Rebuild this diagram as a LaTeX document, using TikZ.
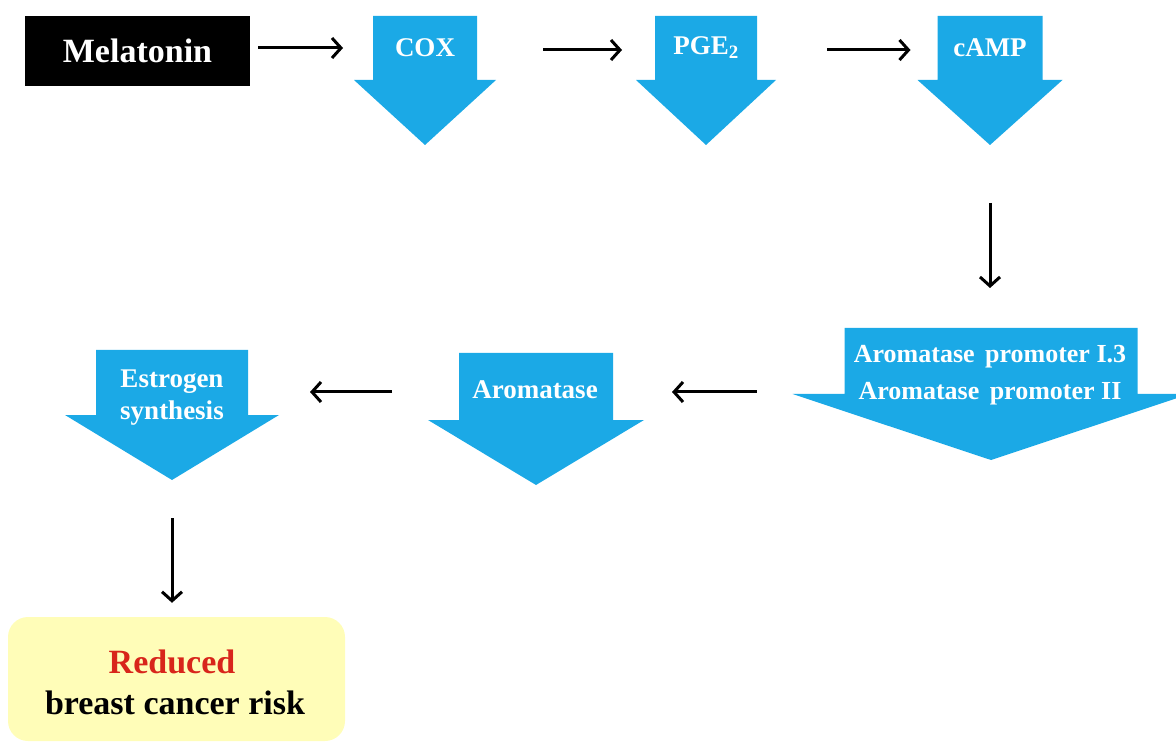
\documentclass[tikz,border=0pt]{standalone}
\usepackage{fontspec}
\setmainfont{Liberation Serif}
\usetikzlibrary{arrows.meta,calc}
\definecolor{bluec}{HTML}{1BA9E6}
\definecolor{yellowc}{HTML}{FFFDB8}
\definecolor{redc}{HTML}{D8251B}
\newcommand\bdown[7]{%
  \node[inner sep=0pt,outer sep=0pt,minimum width=#4pt,minimum height=#5pt] (#1) at (#2,#3+#5/2) {};
  \fill[bluec] (#1.north west) -- (#1.north east) -- (#1.south east) -- ([xshift=#6pt]#1.south east)
    -- ([yshift=-#7pt]#1.south) -- ([xshift=-#6pt]#1.south west) -- (#1.south west) -- cycle;}
\begin{document}
\begin{tikzpicture}[x=1pt,y=-1pt,
  conn/.style={line width=3pt,-{Straight Barb[length=9pt,width=20pt,line width=3pt]}},
  lbl/.style={text=white,font=\bfseries\fontsize{27}{32}\selectfont,align=center,inner sep=0pt},
  big/.style={font=\bfseries\fontsize{34}{41}\selectfont,align=center,inner sep=0pt}]
\useasboundingbox (0,0) rectangle (1176,743);
% Melatonin
\node[fill=black,text=white,big,minimum width=225pt,minimum height=70pt] (mel) at (137.5,51) {Melatonin};
% blue down arrows
\bdown{cox}{425}{16}{104}{64}{19}{65}
\bdown{pge}{706}{16}{102}{64}{19}{65}
\bdown{camp}{990}{16}{105}{64}{20}{65}
\bdown{prom}{991}{328}{293}{66}{52}{66}
\bdown{arom}{536}{353}{154}{67}{31}{65}
\bdown{estr}{172}{350}{152}{65}{31}{65}
% labels
\node[lbl] (coxl) at (425,48) {COX};
\node[lbl] (pgel) at (706,48) {PGE$_{\mathbf{2}}$};
\node[lbl] (campl) at (990,48) {cAMP};
\node[lbl,font=\bfseries\fontsize{26}{37}\selectfont] (proml) at (990,375) {Aromatase\hspace{0.4em}promoter I.3\\Aromatase\hspace{0.4em}promoter II};
\node[lbl] (aroml) at (535,390) {Aromatase};
\node[lbl] (estrl) at (172,398) {Estrogen\\synthesis};
% result box
\node[fill=yellowc,rounded corners=20pt,minimum width=337pt,minimum height=124pt,inner sep=0pt] (res) at (176.5,679) {};
\node[big,text=redc] (red) at (172,662) {Reduced};
\node[big] (risk) at (175,703) {breast cancer risk};
% connectors
\draw[conn] ($(mel.east|-cox.west)+(8,0)$) -- ($(cox.west)+(-30,0)$);
\draw[conn] ($(cox.east)+(66,2)$) -- ($(pge.west)+(-33,2)$);
\draw[conn] ($(pge.east)+(70,2)$) -- ($(camp.west)+(-27,2)$);
\draw[conn] ($(camp.south)+(0,123)$) -- ($(camp.south|-prom.north)+(0,-40)$);
\draw[conn] ($(prom.west)+(-88,31)$) -- ($(arom.east)+(59,5.5)$);
\draw[conn] ($(arom.west)+(-67,5.5)$) -- ($(estr.east)+(62,9.5)$);
\draw[conn] ($(estr.south)+(0,103)$) -- ($(estr.south|-res.north)+(0,-14)$);
\end{tikzpicture}
\end{document}
